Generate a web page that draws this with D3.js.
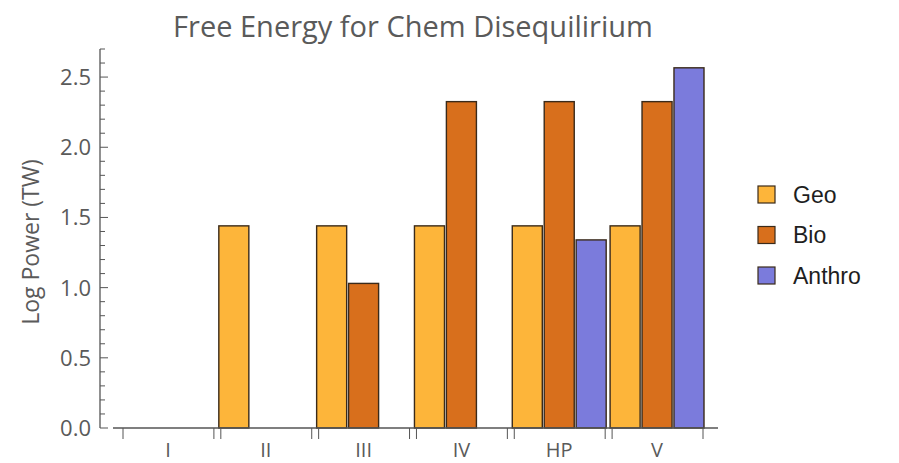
<!DOCTYPE html>
<html>
<head>
<meta charset="utf-8">
<script src="https://cdn.jsdelivr.net/npm/d3@7"></script>
<style>
  body { margin: 0; background: #fff; }
  svg { display: block; }
</style>
</head>
<body>
<div id="chart"></div>
<script>
// Values; null = no bar drawn.
const categories = ["I", "II", "III", "IV", "HP", "V"];
const seriesNames = ["Geo", "Bio", "Anthro"];
const geoValues = [null, 1.44, 1.44, 1.44, 1.44, 1.44];
const bioValues = [null, null, 1.03, 2.325, 2.325, 2.325];
const anthroValues = [null, null, null, null, 1.34, 2.566];
const yTicks = [0, 0.5, 1.0, 1.5, 2.0, 2.5];

const seriesValues = [geoValues, bioValues, anthroValues];
const seriesColors = ["#fdb53a", "#d86f1c", "#7b7bdc"];

const width = 899;
const height = 463;
const svg = d3.select("#chart").append("svg")
    .attr("width", width)
    .attr("height", height);

const x = d3.scaleBand()
    .domain(categories)
    .range([121, 704])
    .paddingInner(0.04);
const xInner = d3.scaleBand()
    .domain(seriesNames)
    .range([0, x.bandwidth()])
    .paddingInner(0.06);
const y = d3.scaleLinear().domain([0, 2.7]).range([428, 49]);

const axisColor = "#555";
const textColor = "#5a5a5a";

// title
svg.append("text")
    .attr("x", 413)
    .attr("y", 37)
    .attr("text-anchor", "middle")
    .attr("font-family", "Open Sans")
    .attr("font-size", 29)
    .attr("fill", textColor)
    .text("Free Energy for Chem Disequilirium");

// y axis label
svg.append("text")
    .attr("transform", "translate(39,242) rotate(-90)")
    .attr("text-anchor", "middle")
    .attr("font-family", "Open Sans")
    .attr("font-size", 23)
    .attr("fill", textColor)
    .text("Log Power (TW)");

// bars
const bars = [];
seriesValues.forEach((values, s) => {
    values.forEach((v, i) => {
        if (v !== null) bars.push({ category: categories[i], series: seriesNames[s], value: v, color: seriesColors[s] });
    });
});
svg.append("g").selectAll("rect")
    .data(bars)
    .join("rect")
    .attr("x", d => x(d.category) + xInner(d.series))
    .attr("y", d => y(d.value))
    .attr("width", xInner.bandwidth())
    .attr("height", d => y(0) - y(d.value))
    .attr("fill", d => d.color)
    .attr("stroke", "#3a2a1a")
    .attr("stroke-width", 1.4);

// y axis
const yAxis = svg.append("g").attr("transform", "translate(100,0)");
yAxis.append("line")
    .attr("y1", y(0)).attr("y2", y(2.7))
    .attr("stroke", axisColor)
    .attr("stroke-width", 1.3);
const minorTicks = d3.range(0, 28).map(k => k / 10);
yAxis.selectAll("line.minor")
    .data(minorTicks)
    .join("line")
    .attr("class", "minor")
    .attr("x1", 0)
    .attr("x2", (d, i) => i % 5 === 0 ? 8 : 5)
    .attr("y1", d => y(d)).attr("y2", d => y(d))
    .attr("stroke", axisColor);
yAxis.selectAll("text")
    .data(yTicks)
    .join("text")
    .attr("x", -9)
    .attr("y", d => y(d))
    .attr("dy", "0.36em")
    .attr("text-anchor", "end")
    .attr("font-family", "Open Sans")
    .attr("font-size", 22)
    .attr("fill", textColor)
    .text(d => d3.format(".1f")(d));

// x axis
const xAxis = svg.append("g");
xAxis.append("line")
    .attr("x1", 113).attr("x2", 718)
    .attr("y1", y(0)).attr("y2", y(0))
    .attr("stroke", axisColor)
    .attr("stroke-width", 1.3);
const edgeTicks = [];
categories.forEach(c => { edgeTicks.push(x(c) + 2); edgeTicks.push(x(c) + x.bandwidth() - 1); });
xAxis.selectAll("line.tick")
    .data(edgeTicks)
    .join("line")
    .attr("class", "tick")
    .attr("x1", d => d).attr("x2", d => d)
    .attr("y1", y(0)).attr("y2", y(0) + 11)
    .attr("stroke", axisColor);
xAxis.selectAll("text")
    .data(categories)
    .join("text")
    .attr("x", d => x(d) + x.bandwidth() / 2)
    .attr("y", 457)
    .attr("text-anchor", "middle")
    .attr("font-family", "Open Sans")
    .attr("font-size", 20)
    .attr("fill", textColor)
    .text(d => d);

// legend
const legend = svg.append("g").attr("transform", "translate(758,186)");
const items = legend.selectAll("g")
    .data(seriesNames)
    .join("g")
    .attr("transform", (d, i) => `translate(0,${i * 40.5})`);
items.append("rect")
    .attr("width", 17).attr("height", 17)
    .attr("fill", (d, i) => seriesColors[i])
    .attr("stroke", "#3a2a1a")
    .attr("stroke-width", 1.2);
items.append("text")
    .attr("x", 35)
    .attr("y", 8.5)
    .attr("dy", "0.36em")
    .attr("font-family", "Liberation Sans")
    .attr("font-size", 23)
    .attr("fill", "#1e1e1e")
    .text(d => d);
</script>
</body>
</html>
